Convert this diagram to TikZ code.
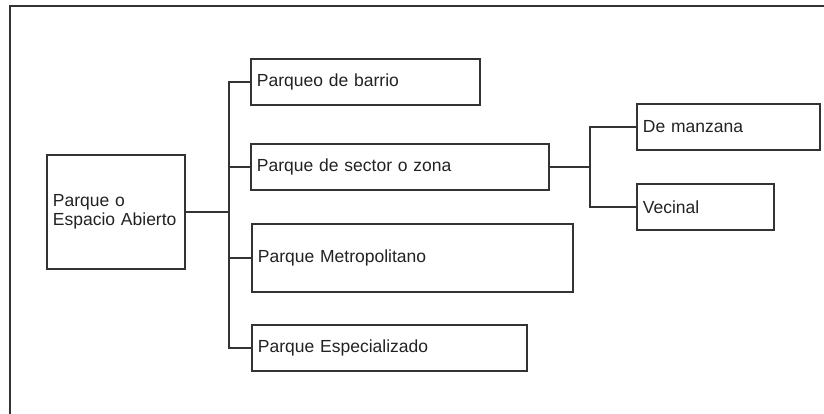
\documentclass[tikz,border=0pt]{standalone}
\usepackage{fontspec}
\setmainfont{Liberation Sans}
\definecolor{linegray}{HTML}{333333}
\definecolor{txtgray}{HTML}{222222}
\tikzset{
  box/.style 2 args={draw=linegray, line width=1.8pt, anchor=north west,
    text width=#1, minimum height=#2, inner xsep=6pt, align=left,
    text=txtgray, font=\fontsize{17.5}{19}\selectfont},
  link/.style={draw=linegray, line width=1.8pt}
}
\begin{document}
\begin{tikzpicture}[x=1pt,y=-1pt]
\useasboundingbox (0,0) rectangle (824,414);
\draw[linegray,line width=2pt] (10,414) -- (10,6) -- (824,6);

\node[box={126pt}{114pt}] (root) at (46,154) {Parque o\\Espacio Abierto};

\node[box={217pt}{46pt}] (barrio) at (250,58) {Parqueo de barrio};
\node[box={286pt}{46pt}] (sector) at (250,143) {Parque de sector o zona};
\node[box={309pt}{68pt}] (metro) at (251,223) {Parque Metropolitano};
\node[box={263pt}{46pt}] (espec) at (251,324) {Parque Especializado};

\node[box={171pt}{46pt}] (manzana) at (636,103) {De manzana};
\node[box={125pt}{46pt}] (vecinal) at (636,183) {Vecinal};

\coordinate (trunk) at (229,211);
\coordinate (trunkb) at (590,166);

\draw[link] (root.east) -- (root.east -| trunk);
\draw[link] (trunk) |- (barrio.west);
\draw[link] (trunk) |- (sector.west);
\draw[link] (trunk) |- (metro.west);
\draw[link] (trunk) |- (espec.west);

\draw[link] (sector.east) -- (sector.east -| trunkb);
\draw[link] (trunkb) |- (manzana.west);
\draw[link] (trunkb) |- (vecinal.west);
\end{tikzpicture}
\end{document}
